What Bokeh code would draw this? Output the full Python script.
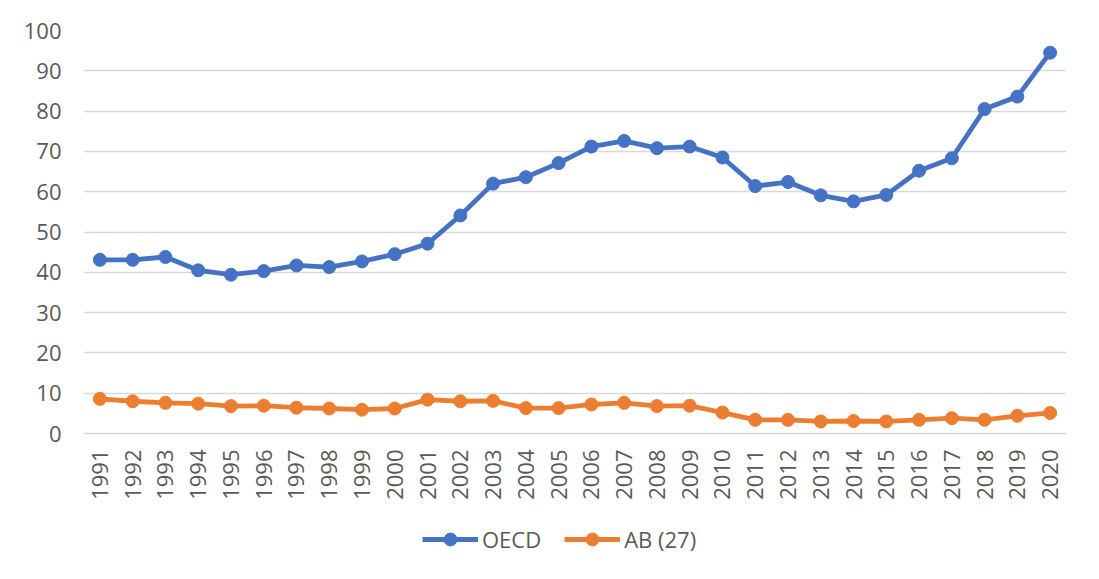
import math
from bokeh.plotting import figure
from bokeh.layouts import column
from bokeh.models import FactorRange, Range1d, Legend, LegendItem, ColumnDataSource, FixedTicker
from bokeh.embed import file_html
from bokeh.resources import INLINE

years = [str(y) for y in range(1991, 2021)]
oecd = [43.1, 43.1, 43.8, 40.5, 39.4, 40.3, 41.7, 41.3, 42.7, 44.5,
        47.1, 54.1, 62.0, 63.6, 67.1, 71.2, 72.6, 70.8, 71.2, 68.5,
        61.4, 62.4, 59.1, 57.6, 59.2, 65.2, 68.3, 80.5, 83.6, 94.5]
ab27 = [8.6, 8.0, 7.6, 7.4, 6.8, 6.9, 6.4, 6.2, 5.9, 6.2,
        8.4, 8.0, 8.1, 6.3, 6.3, 7.2, 7.6, 6.8, 6.9, 5.2,
        3.4, 3.4, 3.0, 3.1, 3.0, 3.4, 3.8, 3.4, 4.4, 5.1]
y_ticks = [0, 10, 20, 30, 40, 50, 60, 70, 80, 90, 100]
series_names = ["OECD", "AB (27)"]

BLUE = "#4472C4"
ORANGE = "#ED7D31"
GRAY_TXT = "#595959"
FONT = "Open Sans"
FS = "22px"

src = ColumnDataSource(dict(year=years, oecd=oecd, ab=ab27))

p = figure(frame_width=983, frame_height=403, output_backend="svg", toolbar_location=None,
           x_range=FactorRange(*years, range_padding=0), y_range=Range1d(0, 100),
           min_border_left=83, min_border_right=33, min_border_top=30, min_border_bottom=80)
p.outline_line_color = None
p.background_fill_color = "white"
p.border_fill_color = "white"

p.xgrid.grid_line_color = None
p.ygrid.grid_line_color = "#d9d9d9"
p.ygrid.grid_line_width = 1.3
p.yaxis.ticker = FixedTicker(ticks=y_ticks)

p.yaxis.axis_line_color = None
p.yaxis.major_tick_line_color = None
p.yaxis.minor_tick_line_color = None
p.yaxis.major_tick_out = 0
p.yaxis.major_tick_in = 0
p.yaxis.major_label_standoff = 22
p.yaxis.major_label_text_font = FONT
p.yaxis.major_label_text_font_size = FS
p.yaxis.major_label_text_color = GRAY_TXT

p.xaxis.axis_line_color = "#d9d9d9"
p.xaxis.axis_line_width = 1.3
p.xaxis.major_tick_line_color = None
p.xaxis.minor_tick_line_color = None
p.xaxis.major_tick_out = 0
p.xaxis.major_tick_in = 0
p.xaxis.major_label_orientation = math.pi / 2
p.xaxis.major_label_standoff = 16
p.xaxis.major_label_text_font = FONT
p.xaxis.major_label_text_font_size = FS
p.xaxis.major_label_text_color = GRAY_TXT

p.line("year", "oecd", source=src, line_color=BLUE, line_width=4.8)
p.scatter("year", "oecd", source=src, size=13, fill_color=BLUE, line_color=BLUE)
p.line("year", "ab", source=src, line_color=ORANGE, line_width=4.8)
p.scatter("year", "ab", source=src, size=13, fill_color=ORANGE, line_color=ORANGE)

# legend strip below the chart (its series lie outside its visible y range)
p2 = figure(width=1099, height=63, output_backend="svg", toolbar_location=None,
            x_range=FactorRange(*years, range_padding=0), y_range=Range1d(1000, 1001),
            min_border=0)
p2.outline_line_color = None
p2.axis.visible = False
p2.grid.visible = False
p2.border_fill_color = "white"
items = []
for name, col, color in zip(series_names, ["oecd", "ab"], [BLUE, ORANGE]):
    lr = p2.line("year", col, source=src, line_color=color, line_width=4.8)
    sr = p2.scatter("year", col, source=src, size=13, fill_color=color, line_color=color)
    items.append(LegendItem(label=name, renderers=[lr, sr]))

legend = Legend(items=items, orientation="horizontal", location=(339, 21),
                glyph_width=56, glyph_height=32, label_standoff=4, spacing=23,
                padding=0, margin=0, border_line_color=None,
                label_text_font=FONT, label_text_font_size=FS,
                label_text_color=GRAY_TXT, background_fill_alpha=0)
p2.add_layout(legend, "center")

layout = column(p, p2, spacing=0)
open("out.html", "w").write(file_html(layout, INLINE))
